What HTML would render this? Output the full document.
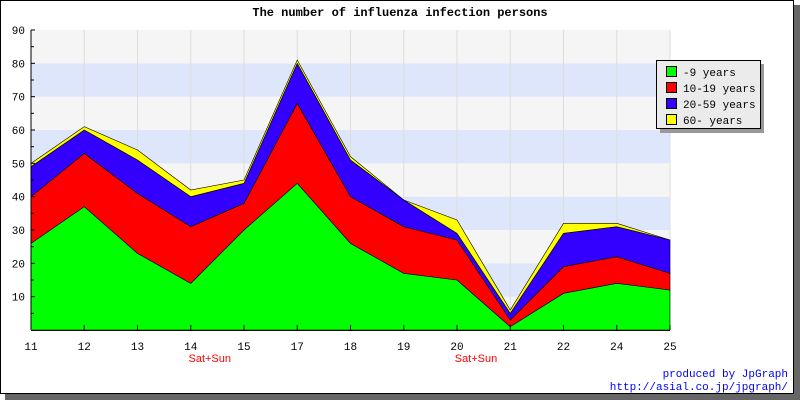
<!DOCTYPE html>
<html><head><meta charset="utf-8"><style>
body{margin:0;background:#fff;}
svg{display:block;font-family:"Liberation Mono",monospace;}
</style></head><body>
<svg id="c" width="800" height="400" xmlns="http://www.w3.org/2000/svg">
<rect x="5" y="5" width="795" height="395" fill="#666"/>
<rect x="0.5" y="0.5" width="793" height="393" fill="#fff" stroke="#000"/>
<text x="400" y="16" text-anchor="middle" font-size="12" font-weight="bold">The number of influenza infection persons</text>
<g id="bands"></g><g id="grid"></g><g id="areas"></g><g id="axes"></g>
<g>
<rect x="660" y="64" width="104" height="69" fill="#999"/>
<rect x="656.5" y="60.5" width="104" height="68" fill="#ebebeb" stroke="#000"/>
<g id="leg"></g>
</g>
<text x="788" y="377" text-anchor="end" font-size="11" fill="#00f">produced by JpGraph</text>
<text x="788" y="390" text-anchor="end" font-size="11" fill="#00f">http://asial.co.jp/jpgraph/</text>
</svg>
<script>
const categories=["11","12","13","14","15","17","18","19","20","21","22","24","25"];
const under9=[26,37,23,14,30,44,26,17,15,1,11,14,12];
const age10to19=[14,16,18,17,8,24,14,14,12,2,8,8,5];
const age20to59=[9,7,10,9,6,12,11,8,2,2,10,9,10];
const over60=[1,1,3,2,1,1,1,0,4,1,3,1,0];
const seriesNames=["-9 years","10-19 years","20-59 years","60- years"];
const yTicks=[10,20,30,40,50,60,70,80,90];
const weekendLabels={"14":"Sat+Sun","20":"Sat+Sun"};
const NS="http://www.w3.org/2000/svg";
const X0=31,X1=670,Y0=330,Y1=30,YMAX=90;
const xs=i=>X0+(X1-X0)*i/(categories.length-1);
const ys=v=>Y0-(Y0-Y1)*v/YMAX;
function mk(p,t,a){const e=document.createElementNS(NS,t);for(const k in a)e.setAttribute(k,a[k]);document.getElementById(p).appendChild(e);return e;}
for(let v=0;v<YMAX;v+=10){const r=mk('bands','rect',{x:X0,y:ys(v+10),width:X1-X0,height:ys(v)-ys(v+10),fill:(v/10)%2==0?'#f5f5f5':'#dde6fb'});

}
categories.forEach((c,i)=>{const l=mk('grid','line',{x1:xs(i),x2:xs(i),y1:Y1,y2:Y0,stroke:'#ddd'});

});
const series=[under9,age10to19,age20to59,over60];const colors=['#00ff00','#ff0000','#3300ff','#ffff00'];
let base=categories.map(()=>0);
series.forEach((s,k)=>{const top=base.map((b,i)=>b+s[i]);
let pts=top.map((v,i)=>xs(i)+','+ys(v));
for(let i=categories.length-1;i>=0;i--)pts.push(xs(i)+','+ys(base[i]));
const p=mk('areas','polygon',{points:pts.join(' '),fill:colors[k],stroke:'#000','stroke-width':0.6});


base=top;
const y=66+k*16;
const sw=mk('leg','rect',{x:666.5,y:y+0.5,width:10,height:10,fill:colors[k],stroke:'#000'});


const t=mk('leg','text',{x:683,y:y+10,'font-size':11});t.textContent=seriesNames[k];

});
mk('axes','line',{x1:X0,x2:X0,y1:Y1,y2:Y0,stroke:'#000'});
mk('axes','line',{x1:X0,x2:X1,y1:Y0+0.5,y2:Y0+0.5,stroke:'#000'});
yTicks.forEach(v=>{const t=mk('axes','text',{x:25,y:ys(v)+4,'text-anchor':'end','font-size':11});t.textContent=v;


mk('axes','line',{x1:X0,x2:X0+4,y1:ys(v),y2:ys(v),stroke:'#000'});
mk('axes','line',{x1:X0,x2:X0+3,y1:ys(v-5),y2:ys(v-5),stroke:'#000'});});
categories.forEach((c,i)=>{mk('axes','line',{x1:xs(i),x2:xs(i),y1:Y0,y2:Y0-5,stroke:'#000'});
const t=mk('axes','text',{x:xs(i),y:350,'text-anchor':'middle','font-size':11});t.textContent=c;


if(weekendLabels[c]){const w=mk('axes','text',{x:xs(i)+19,y:362,'text-anchor':'middle','font-size':11,'font-family':'Liberation Sans, sans-serif',fill:'#f00'});w.textContent=weekendLabels[c];

}});
</script>
</body></html>
